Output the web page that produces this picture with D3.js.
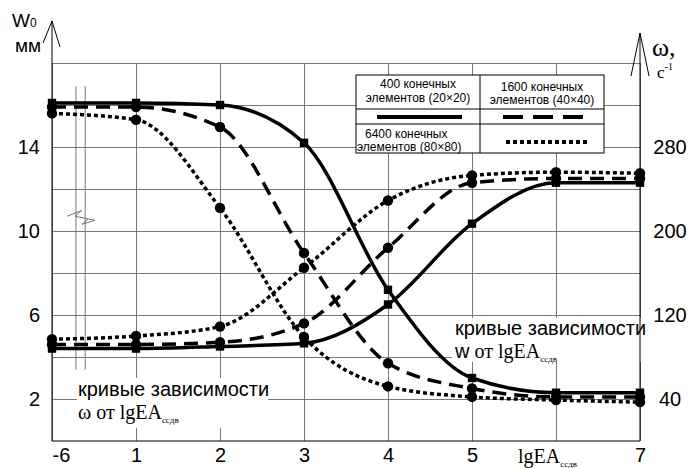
<!DOCTYPE html>
<html lang="ru">
<head>
<meta charset="UTF-8">
<title>W0 и ω от lgEA</title>
<style>
  body { margin: 0; background: #fff; }
  svg { display: block; font-family: "Liberation Sans", Arial, sans-serif; }
  .grid line { stroke: #777; shape-rendering: crispEdges; }
  .grid path { display: none; }
  .lbl text { font-size: 20px; fill: #000; }
  .lbl path { display: none; }
  .serif { font-family: "Liberation Serif", "Times New Roman", serif; }
</style>
</head>
<body>
<div id="chart"></div>
<script src="https://cdn.jsdelivr.net/npm/d3@7/dist/d3.min.js"></script>
<script>
// ось абсцисс: lgEA (после -6 разрыв)
const xCats = ["-6", "1", "2", "3", "4", "5", "6", "7"];
// прогиб W0, мм
const w400  = [16.1, 16.1, 16.0, 14.2, 7.2, 3.0, 2.3, 2.3];
const w1600 = [15.9, 15.9, 14.95, 8.95, 3.7, 2.5, 2.1, 2.1];
const w6400 = [15.6, 15.3, 11.1, 4.95, 2.6, 2.1, 1.95, 1.85];
// частота ω, c^-1
const om400  = [88, 88, 90, 93, 130, 207, 246, 246];
const om1600 = [92, 92, 94, 112, 184, 246, 250, 250];
const om6400 = [97, 100, 109, 165, 229, 253, 256, 255];

const leftTicks = [2, 6, 10, 14];
const rightTicks = [40, 120, 200, 280];

const width = 689, height = 468;
const x0 = 52, x1 = 640, yTop = 63, yBot = 441;

const svg = d3.select("#chart").append("svg")
  .attr("width", width).attr("height", height);

const x = d3.scalePoint().domain(xCats).range([x0, x1]);
const yW = d3.scaleLinear().domain([0, 18]).range([yBot, yTop]);
const yOm = d3.scaleLinear().domain([0, 360]).range([yBot, yTop]);
const step = x.step();

// сетка
svg.append("g").attr("class", "grid")
  .attr("transform", `translate(0,${yBot})`)
  .call(d3.axisBottom(x).tickSize(-(yBot - yTop)).tickFormat(""));
svg.append("g").attr("class", "grid")
  .attr("transform", `translate(${x0},0)`)
  .call(d3.axisLeft(yW).tickValues(d3.range(2, 19, 2)).tickSize(-(x1 - x0)).tickFormat(""));

// разрыв оси
const bx = x("-6");
[0.285, 0.395].forEach(f => {
  svg.append("line")
    .attr("x1", bx + step * f).attr("x2", bx + step * f)
    .attr("y1", yW(16.9)).attr("y2", yW(3.4))
    .attr("stroke", "#777");
});
const zy = yW(10.7);
svg.append("path")
  .attr("d", `M${bx + 15},${zy} L${bx + 30},${zy - 6} L${bx + 23},${zy} L${bx + 43},${zy + 4} L${bx + 30},${zy + 8} L${bx + 36},${zy + 3}`)
  .attr("fill", "none").attr("stroke", "#777");

// белые подложки под подписи
svg.append("rect").attr("x", 77).attr("y", 378).attr("width", 191).attr("height", 50).attr("fill", "#fff");
svg.append("rect").attr("x", 452).attr("y", 318).attr("width", 190).attr("height", 44).attr("fill", "#fff");

// оси
svg.append("line").attr("x1", x0).attr("x2", x1).attr("y1", yBot).attr("y2", yBot).attr("stroke", "#000");
svg.append("line").attr("x1", x0).attr("x2", x0).attr("y1", 21).attr("y2", yBot).attr("stroke", "#000");
svg.append("line").attr("x1", x1).attr("x2", x1).attr("y1", 33).attr("y2", yBot).attr("stroke", "#000");
svg.append("path").attr("d", `M${x0 - 9},43 L${x0},21 L${x0 + 8},47`).attr("fill", "none").attr("stroke", "#000");
svg.append("path").attr("d", `M${x1 - 9},76 L${x1},33 L${x1 + 9},76`).attr("fill", "none").attr("stroke", "#000");

const gl = svg.append("g").attr("class", "lbl")
  .attr("transform", `translate(${x0},0)`)
  .call(d3.axisLeft(yW).tickValues(leftTicks).tickSize(0).tickPadding(12));
const gr = svg.append("g").attr("class", "lbl")
  .attr("transform", `translate(${x1},0)`)
  .call(d3.axisRight(yOm).tickValues(rightTicks).tickSize(0).tickPadding(30));
gr.selectAll("text").attr("text-anchor", "middle");
const gb = svg.append("g").attr("class", "lbl")
  .attr("transform", `translate(0,${yBot})`)
  .call(d3.axisBottom(x).tickSize(0).tickPadding(7).tickFormat(d => d === "6" ? "" : d));
gb.selectAll("text").attr("dx", d => d === "-6" ? 9 : 0);

// подпись lgEA на оси
const lg = svg.append("text").attr("class", "serif")
  .attr("x", x("6") - 38).attr("y", 463).attr("font-size", 20);
lg.append("tspan").text("lgEA");
lg.append("tspan").attr("font-size", 9).attr("dy", 4).text("ссдв");

// заголовки осей
const wt = svg.append("text").attr("x", 12).attr("y", 27).attr("font-size", 19);
wt.append("tspan").text("W");
wt.append("tspan").attr("font-size", 12).text("0");
svg.append("text").attr("x", 15).attr("y", 52).attr("font-size", 19).text("мм");
svg.append("text").attr("class", "serif").attr("x", 652).attr("y", 56).attr("font-size", 26).text("ω,");
const ct = svg.append("text").attr("class", "serif").attr("x", 657).attr("y", 78).attr("font-size", 17);
ct.append("tspan").text("c");
ct.append("tspan").attr("font-size", 10).attr("dy", -8).text("-1");

// кривые
const series = [
  { v: w400, y: yW, dash: null, mark: "sq" },
  { v: w1600, y: yW, dash: "14,8", mark: "ci" },
  { v: w6400, y: yW, dash: "4,3", mark: "ci" },
  { v: om400, y: yOm, dash: null, mark: "sq" },
  { v: om1600, y: yOm, dash: "14,8", mark: "ci" },
  { v: om6400, y: yOm, dash: "4,3", mark: "ci" }
];

series.forEach(s => {
  const pts = xCats.map((c, i) => [x(c), s.y(s.v[i])]);
  svg.append("path")
    .attr("d", d3.line().curve(d3.curveMonotoneX)(pts))
    .attr("fill", "none").attr("stroke", "#000")
    .attr("stroke-width", 3.5)
    .attr("stroke-dasharray", s.dash);
  const sym = d3.symbol().type(s.mark === "sq" ? d3.symbolSquare : d3.symbolCircle)
    .size(s.mark === "sq" ? 70 : 85);
  svg.selectAll(null).data(pts).enter().append("path")
    .attr("transform", d => `translate(${d[0]},${d[1]})`)
    .attr("d", sym).attr("fill", "#000");
});

// легенда
const lgd = svg.append("g");
lgd.append("rect").attr("x", 356).attr("y", 75).attr("width", 248).attr("height", 78)
  .attr("fill", "#fff").attr("stroke", "#000");
lgd.append("line").attr("x1", 480).attr("x2", 480).attr("y1", 75).attr("y2", 153).attr("stroke", "#000");
[109, 124].forEach(yy => lgd.append("line").attr("x1", 356).attr("x2", 604)
  .attr("y1", yy).attr("y2", yy).attr("stroke", "#000"));
const lt = (tx, ty, txt, anchor) => lgd.append("text").attr("x", tx).attr("y", ty)
  .attr("font-size", 12).attr("text-anchor", anchor).text(txt);
lt(418, 88, "400 конечных", "middle");
lt(418, 102, "элементов (20×20)", "middle");
lt(542, 91, "1600 конечных", "middle");
lt(542, 104, "элементов (40×40)", "middle");
lt(365, 138, "6400 конечных", "start");
lt(357, 151, "элементов (80×80)", "start");
lgd.append("line").attr("x1", 377).attr("x2", 462).attr("y1", 117).attr("y2", 117)
  .attr("stroke", "#000").attr("stroke-width", 4);
lgd.append("line").attr("x1", 503).attr("x2", 584).attr("y1", 117).attr("y2", 117)
  .attr("stroke", "#000").attr("stroke-width", 4).attr("stroke-dasharray", "20,10");
lgd.append("line").attr("x1", 506).attr("x2", 590).attr("y1", 142).attr("y2", 142)
  .attr("stroke", "#000").attr("stroke-width", 4).attr("stroke-dasharray", "4,3");

// подписи кривых
const note = (tx, ty, first, sym) => {
  svg.append("text").attr("x", tx).attr("y", ty).attr("font-size", 20).text("кривые зависимости");
  const t = svg.append("text").attr("x", tx).attr("y", ty + 23).attr("font-size", 20);
  t.append("tspan").attr("class", sym ? "serif" : null).text(first);
  t.append("tspan").attr("class", "serif").text(" от lgEA");
  t.append("tspan").attr("class", "serif").attr("font-size", 9).attr("dy", 4).text("ссдв");
};
note(78, 396, "ω", true);
note(455, 335, "w", false);
</script>
</body>
</html>
